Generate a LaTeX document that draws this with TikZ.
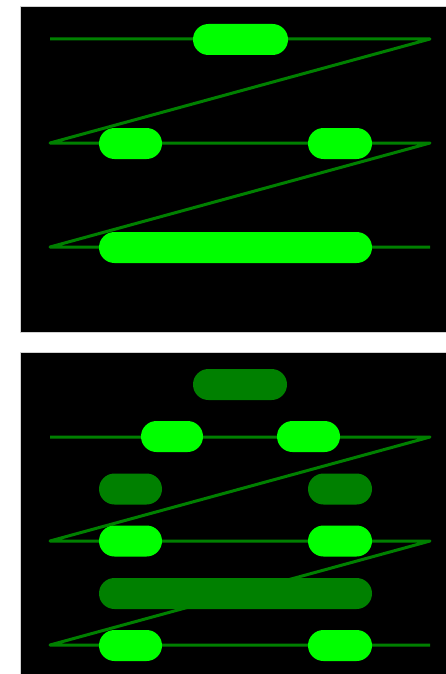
\documentclass[tikz,border=0pt]{standalone}
\begin{document}
\begin{tikzpicture}[x=1pt,y=-1pt,
  panel/.style={fill=black,draw=black!18,line width=0.8pt},
  wire/.style={draw=wiregreen,line width=3pt,line join=round},
  pill/.style={fill=#1,draw=none,rounded corners=15.5pt,minimum height=31pt,inner sep=0pt,outer sep=0pt},
  pill/.default=litegreen]
\definecolor{wiregreen}{HTML}{008000}
\definecolor{litegreen}{HTML}{00FF00}
\definecolor{darkgreen}{HTML}{008000}
\useasboundingbox (0,0) rectangle (445,674);
\fill[white] (0,0) rectangle (445,674);
% panels
\draw[panel] (20,6) rectangle (447,332);
\draw[panel] (20,352.5) rectangle (447,676);
% ---- top panel ----
\coordinate (a1) at (50,39);
\coordinate (a2) at (430,39);
\coordinate (a3) at (50,143);
\coordinate (a4) at (430,143);
\coordinate (a5) at (50,247);
\coordinate (a6) at (430,247);
\draw[wire] (a1) -- (a2) -- (a3) -- (a4) -- (a5) -- (a6);
\node[pill,minimum width=95pt] (t1) at (240.5,39.5) {};
\node[pill,minimum width=63pt] (t2) at (130.5,143.5) {};
\node[pill,minimum width=64pt] (t3) at (340,143.5) {};
\node[pill,minimum width=273pt] (t4) at (235.5,247.5) {};
% ---- bottom panel ----
\node[pill=darkgreen,minimum width=94pt] (d1) at (240,384.5) {};
\node[pill=darkgreen,minimum width=63pt] (d2) at (130.5,489) {};
\node[pill=darkgreen,minimum width=64pt] (d3) at (340,489) {};
\node[pill=darkgreen,minimum width=273pt] (d4) at (235.5,593.5) {};
\coordinate (c1) at (50,437);
\coordinate (c2) at (430,437);
\coordinate (c3) at (50,541);
\coordinate (c4) at (430,541);
\coordinate (c5) at (50,645);
\coordinate (c6) at (430,645);
\draw[wire] (c1) -- (c2) -- (c3) -- (c4) -- (c5) -- (c6);
\node[pill,minimum width=62pt] (b1) at (172,436.5) {};
\node[pill,minimum width=63pt] (b2) at (308.5,436.5) {};
\node[pill,minimum width=63pt] (b3) at (130.5,541) {};
\node[pill,minimum width=64pt] (b4) at (340,541) {};
\node[pill,minimum width=63pt] (b5) at (130.5,645.5) {};
\node[pill,minimum width=64pt] (b6) at (340,645.5) {};
\end{tikzpicture}
\end{document}
